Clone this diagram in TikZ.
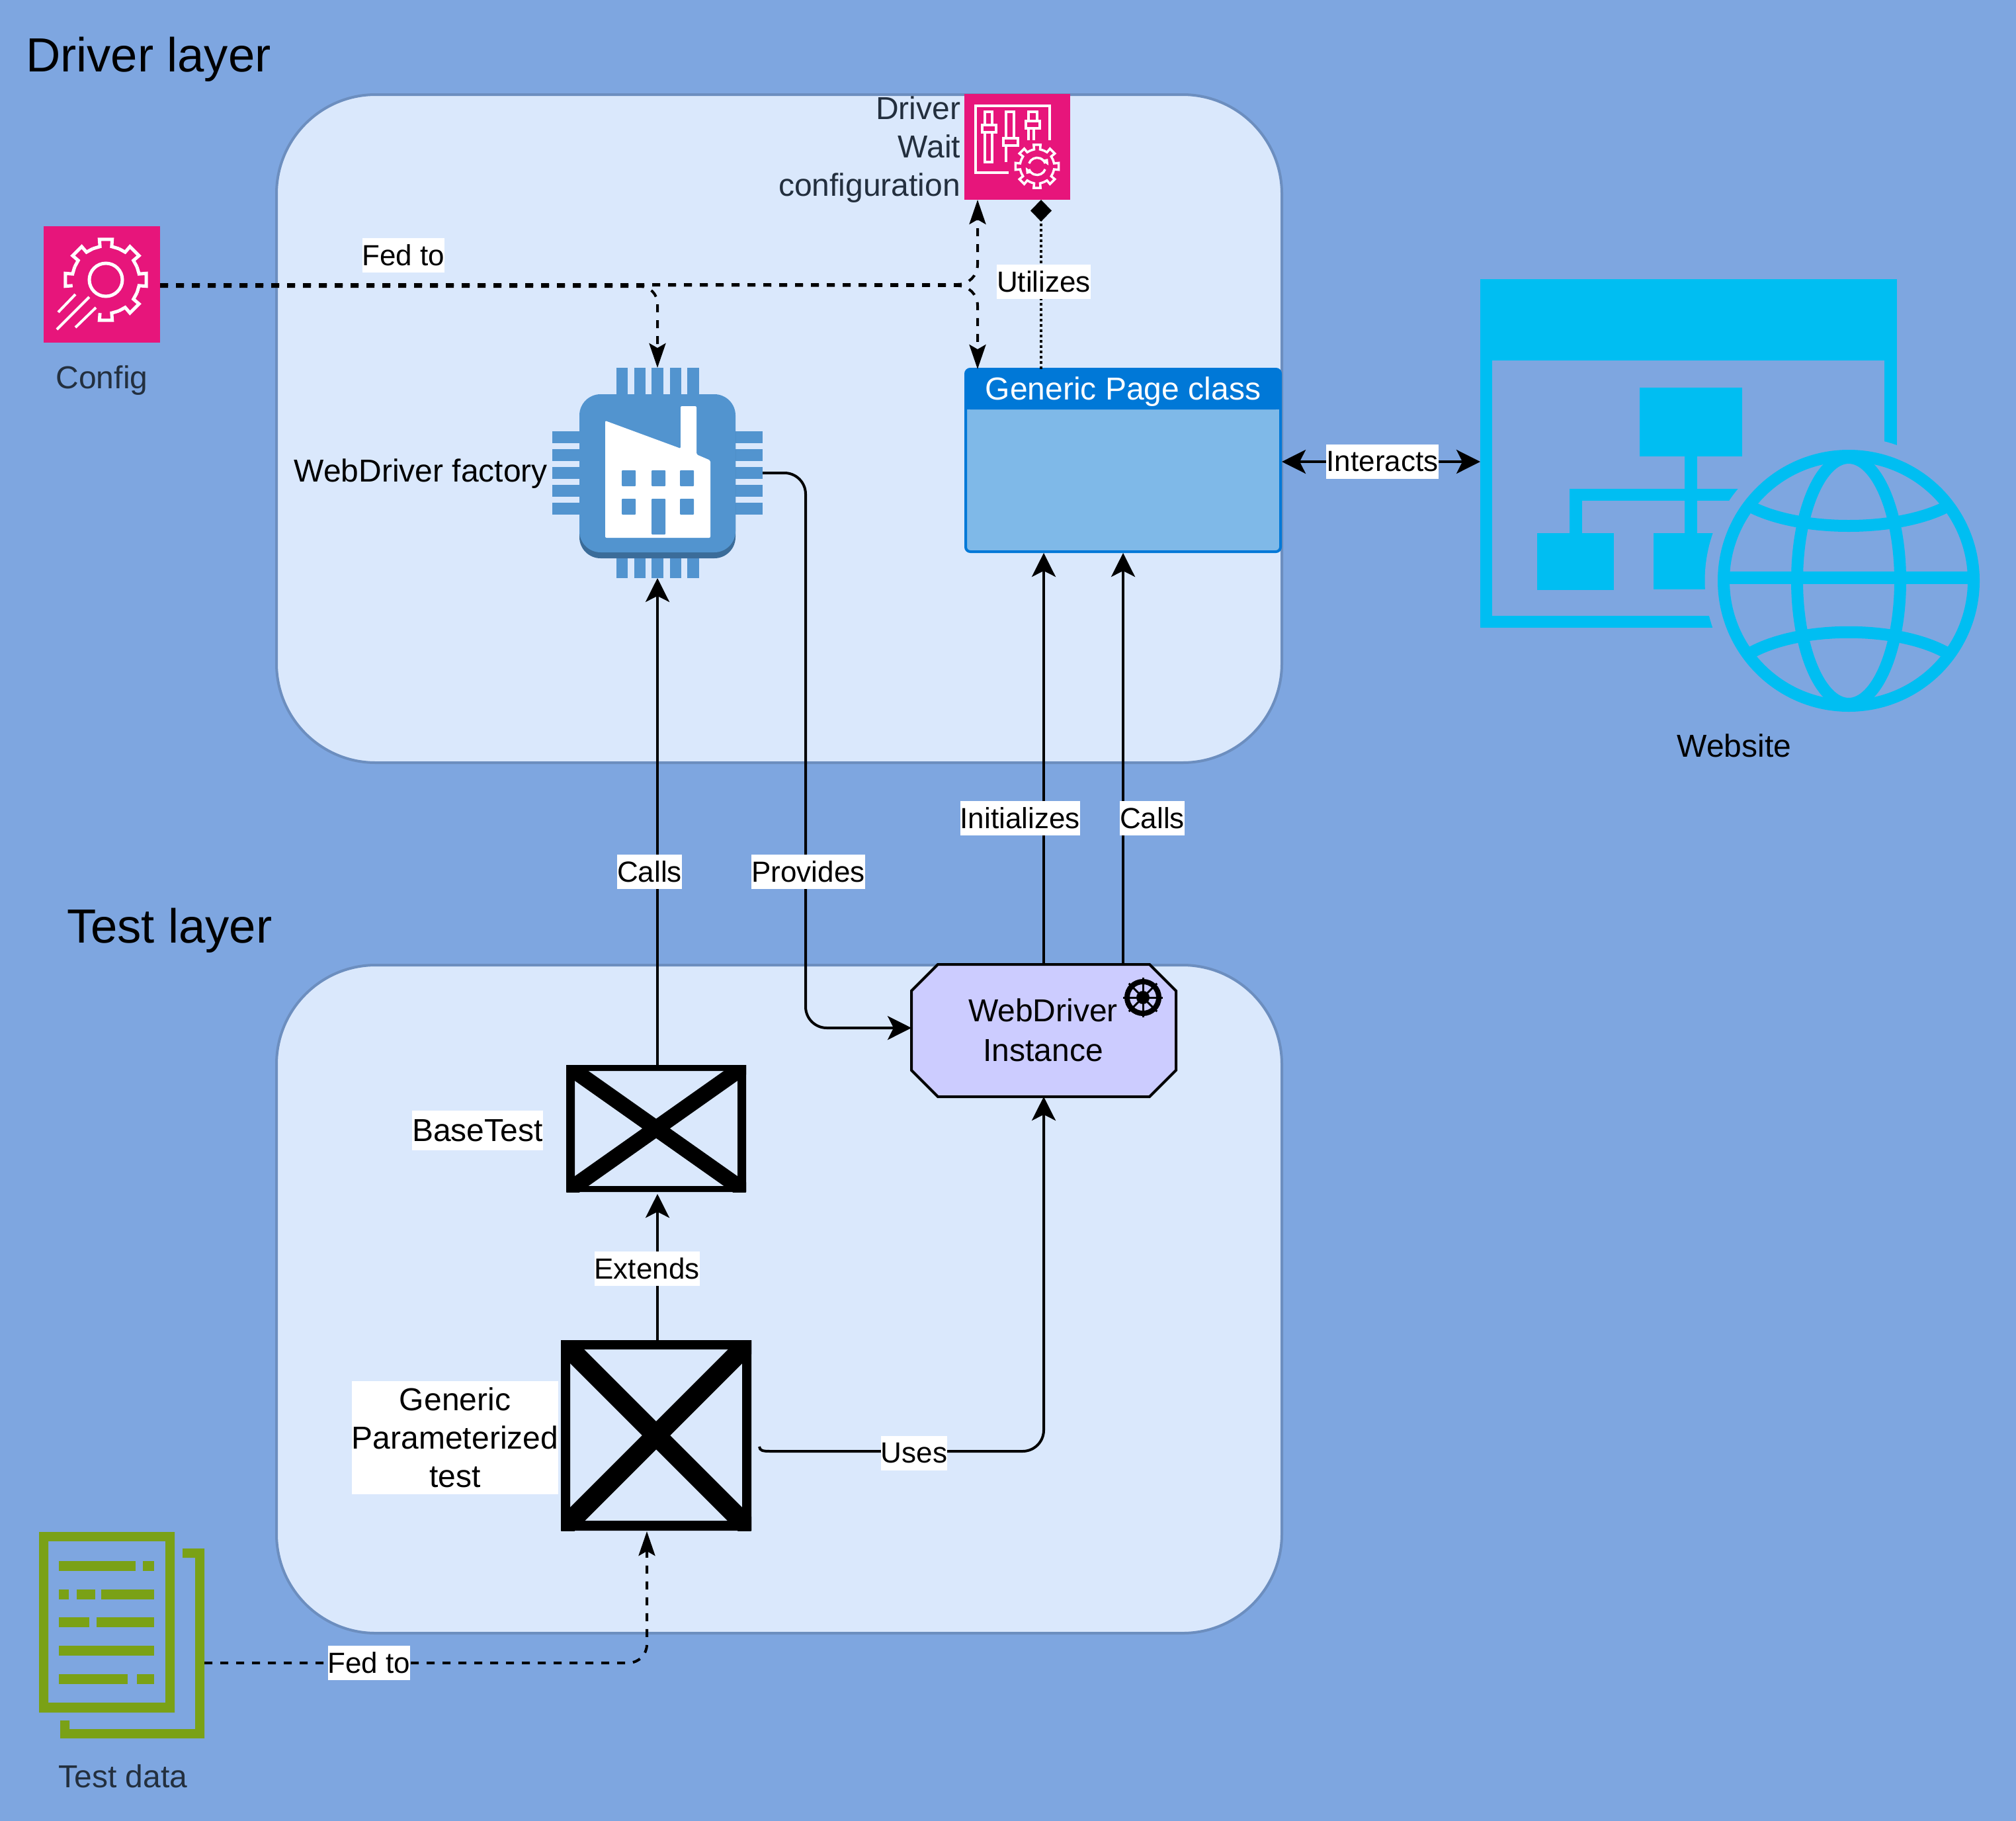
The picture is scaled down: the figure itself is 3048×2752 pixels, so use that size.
\documentclass[tikz,border=0pt]{standalone}
\usepackage{fontspec}
\setmainfont{Liberation Sans}
\usetikzlibrary{arrows.meta,calc}
\definecolor{bgc}{HTML}{7EA6E0}
\definecolor{contfill}{HTML}{DAE8FC}
\definecolor{contline}{HTML}{6C8EBF}
\definecolor{pinkc}{HTML}{E7157B}
\definecolor{darktxt}{HTML}{232F3E}
\definecolor{chipc}{HTML}{5294CF}
\definecolor{chipd}{HTML}{3B6C99}
\definecolor{pagehead}{HTML}{0078D7}
\definecolor{pagefill}{HTML}{7FB9E8}
\definecolor{sitec}{HTML}{00BEF2}
\definecolor{datac}{HTML}{7AA116}
\definecolor{octoc}{HTML}{CCCCFF}
\tikzset{
  slot/.style={inner sep=0pt,outer sep=0pt,draw=none},
  bodytext/.style={inner sep=0pt,outer sep=0pt,align=center,font=\fontsize{48}{58}\selectfont},
  lbl/.style={fill=white,inner xsep=0pt,inner ysep=0pt,outer sep=0pt,minimum height=52pt,font=\fontsize{44}{52}\selectfont},
  title/.style={inner sep=0pt,outer sep=0pt,anchor=west,font=\fontsize{72.5}{80}\selectfont},
  container/.style={fill=contfill,draw=contline,line width=4pt,rounded corners=150pt},
  conn/.style={line width=4pt,draw=black},
  solidarr/.style={conn,-{Stealth[length=36pt,width=36pt,inset=9pt]}},
  bothsolid/.style={conn,{Stealth[length=36pt,width=36pt,inset=9pt]}-{Stealth[length=36pt,width=36pt,inset=9pt]}},
  dasharr/.style={conn,dash pattern=on 12pt off 12pt,-{Stealth[length=37pt,width=25pt,inset=7pt]}},
  whiteline/.style={draw=white,line width=5pt,fill=none},
}
\newcommand{\geartooth}[3]{% angle, rin, rout
  (#1-22.5:#2) -- (#1-10:#2) -- (#1-9:#3) -- (#1+9:#3) -- (#1+10:#2) -- (#1+22.5:#2)}
\begin{document}
\begin{tikzpicture}[x=1pt,y=-1pt]
\path[use as bounding box] (0,0) rectangle (3048,2752);
\fill[bgc] (-6,-6) rectangle (3054,2758);

% containers
\draw[container] (418,143) rectangle (1938,1153);
\draw[container] (418,1459) rectangle (1938,2469);

% titles
\node[title] (t1) at (39,90) {Driver layer};
\node[title] (t2) at (101,1407) {Test layer};

% Config icon
\node[slot,fill=pinkc,minimum width=176pt,minimum height=176pt] (config) at (154,430) {};
\node[bodytext,text=darktxt] (configt) at (154,575) {Config};
\begin{scope}[shift={(160,423)}]
  \foreach \a in {225,270,315,0,45}
    \draw[whiteline,line join=miter] \geartooth{\a}{51}{62};
  \draw[whiteline,line join=miter] (180-10:51) -- (180-9:62) -- (180+9:62) -- (180+10:51) -- (180+22.5:51);
  \draw[whiteline,line join=miter] (90-22.5:51) -- (90-10:51) -- (90-9:62) -- (90+9:62) -- (90+10:51);
  \draw[whiteline] (0,0) circle (25);
\end{scope}
\draw[whiteline,line width=4pt] (114,445) -- (88,472);
\draw[whiteline,line width=4pt] (135,449) -- (86,498);
\draw[whiteline,line width=4pt] (145,465) -- (114,495);

% Driver wait icon
\node[slot,fill=pinkc,minimum width=160pt,minimum height=160pt] (wait) at (1538,222) {};
\node[bodytext,text=darktxt,align=right,anchor=east] (waitt) at (1452,226) {Driver\\Wait\\configuration};
\draw[whiteline,line width=4pt] (1587,212) -- (1587,160) -- (1475,160) -- (1475,261) -- (1525,261);
\draw[whiteline,line width=4pt] (1489,169) rectangle (1500,245);
\draw[whiteline,line width=4pt,fill=pinkc] (1485,189) rectangle (1506,200);
\draw[whiteline,line width=4pt] (1521,245) -- (1521,169) -- (1533,169) -- (1533,209);
\draw[whiteline,line width=4pt,fill=pinkc] (1517,209) rectangle (1539,220);
\draw[whiteline,line width=4pt] (1555,212) -- (1555,169) -- (1568,169) -- (1568,183);
\draw[whiteline,line width=4pt] (1563,194) -- (1563,212);
\draw[whiteline,line width=4pt,fill=pinkc] (1551,183) rectangle (1572,194);
\begin{scope}[shift={(1568,251.5)}]
  \fill[pinkc] (0,0) circle (38);
  \foreach \a in {0,45,...,315}
    \draw[whiteline,line width=3.5pt,line join=miter] \geartooth{\a}{26}{33};
  \draw[whiteline,line width=3.5pt] (200:13) arc (200:340:13);
  \draw[whiteline,line width=3.5pt] (20:13) arc (20:160:13);
  \fill[white] (340:13)++(-6,-5) -- ++(10,-2) -- ++(1,10) -- cycle;
  \fill[white] (160:13)++(6,5) -- ++(-10,2) -- ++(-1,-10) -- cycle;
\end{scope}

% Chip
\node[slot,minimum width=318pt,minimum height=318pt] (chip) at (994,715) {};
\foreach \xa/\xb in {932/949,959/976,985/1003,1013/1030,1039/1057} {
  \fill[chipc] (\xa,556) rectangle (\xb,600);
  \fill[chipc] (\xb,874) rectangle (\xa,840);
}
\foreach \ya/\yb in {652/670,679/697,706/724,733/751,760/778} {
  \fill[chipc] (835,\ya) rectangle (880,\yb);
  \fill[chipc] (1153,\ya) rectangle (1108,\yb);
}
\fill[chipd,rounded corners=32pt] (876,620) rectangle (1112,844);
\fill[chipc,rounded corners=32pt] (876,596) rectangle (1112,835);
\fill[white,rounded corners=2pt] (915,813) -- (915,636) -- (1029,678) -- (1029,614) -- (1053,614) -- (1053,687) -- (1074,696) -- (1074,813) -- cycle;
\foreach \xa in {940,985,1028} \fill[chipc,rounded corners=1pt] (\xa,711) rectangle ++(21,24);
\foreach \xa in {940,1028} \fill[chipc,rounded corners=1pt] (\xa,754) rectangle ++(21,24);
\fill[chipc,rounded corners=1pt] (985,754) rectangle (1006,808);
\node[bodytext,anchor=east] (chipt) at (828,716) {WebDriver factory};

% Generic page class
\node[slot,draw=pagehead,fill=pagefill,line width=4pt,rounded corners=7pt,minimum width=476pt,minimum height=276pt] (page) at (1698,696) {};
\fill[pagehead,rounded corners=7pt] (page.north west) -- (page.north east) -- (page.east |- 0,619) -- (page.west |- 0,619) -- cycle;
\fill[pagehead] (1460,605) rectangle (1936,619);
\node[bodytext,text=white] (paget) at (1698,592) {Generic Page class};

% Website icon
\node[slot,minimum width=756pt,minimum height=653pt] (site) at (2616,748.5) {};
\coordinate (sitein) at (2238,698);
\fill[sitec] (2238,422) rectangle (2868,545);
\fill[sitec] (2238,422) rectangle (2256,949);
\fill[sitec] (2849,422) rectangle (2868,700);
\fill[sitec] (2238,931) rectangle (2620,949);
\fill[sitec] (2479,586) rectangle (2634,690);
\fill[sitec] (2547,690) rectangle (2566,806);
\fill[sitec] (2373,739) rectangle (2660,757);
\fill[sitec] (2373,739) rectangle (2392,806);
\fill[sitec] (2324,806) rectangle (2440,892);
\fill[sitec] (2500,806) rectangle (2620,891);
\fill[bgc] (2795,878) circle (217.5);
\draw[sitec,line width=18pt] (2795,878) circle (189);
\draw[sitec,line width=18pt] (2795,878) ellipse (78 and 186);
\draw[sitec,line width=19pt] (2610,873) -- (2980,873);
\begin{scope}
  \clip (2795,878) circle (190);
  \draw[sitec,line width=18pt] (2645,765) .. controls (2720,805) and (2870,805) .. (2945,765);
  \draw[sitec,line width=18pt] (2645,988) .. controls (2720,945) and (2870,945) .. (2945,988);
\end{scope}
\node[bodytext] (sitet) at (2622,1127) {Website};

% BaseTest
\node[slot,minimum width=272pt,minimum height=192pt] (base) at (992,1706) {};
\fill[black,even odd rule] (856,1610) rectangle (1128,1802) (869,1619) rectangle (1115,1793);
\begin{scope}
  \clip (856,1610) rectangle (1128,1802);
  \draw[line width=24pt] (856,1610) -- (1128,1802);
  \draw[line width=24pt] (856,1802) -- (1128,1610);
\end{scope}

% Generic Parameterized test
\node[slot,minimum width=288pt,minimum height=288pt] (gen) at (992,2170) {};
\fill[black,even odd rule] (848,2026) rectangle (1136,2314) (862,2040) rectangle (1122,2299);
\begin{scope}
  \clip (848,2026) rectangle (1136,2314);
  \draw[line width=30pt] (848,2026) -- (1136,2314);
  \draw[line width=30pt] (848,2314) -- (1136,2026);
\end{scope}

% WebDriver instance
\fill[octoc] (1418,1458) -- (1738,1458) -- (1778,1498) -- (1778,1618) -- (1738,1658) -- (1418,1658) -- (1378,1618) -- (1378,1498) -- cycle;
\node[slot,minimum width=400pt,minimum height=200pt] (octo) at (1578,1558) {};
\draw[line width=4pt,line join=miter] (1418,1458) -- (1738,1458) -- (1778,1498) -- (1778,1618) -- (1738,1658) -- (1418,1658) -- (1378,1618) -- (1378,1498) -- cycle;
\node[bodytext] (octot) at (1577,1557) {WebDriver\\[2pt]Instance};
\begin{scope}[shift={(1728,1508)}]
  \draw[line width=8pt] (0,0) circle (24);
  \fill (0,0) circle (10);
  \foreach \a in {0,45,...,315} \draw[line width=3pt] (0,0) -- (\a:30);
\end{scope}

% Test data
\node[slot,minimum width=250pt,minimum height=312pt] (data) at (184,2472) {};
\fill[datac,even odd rule] (59,2316) rectangle (264,2589) (73,2330) rectangle (250,2574);
\fill[datac] (276,2341) -- (309,2341) -- (309,2628) -- (91,2628) -- (91,2601) -- (105,2601) -- (105,2614) -- (295,2614) -- (295,2355) -- (276,2355) -- cycle;
\foreach \ya/\xa/\xb in {2360/89/205,2360/216/233,2403/89/104,2403/116/144,2403/153/233,2445/89/135,2445/146/233,2488/89/233,2531/89/193,2531/207/233}
  \fill[datac] (\xa,\ya) rectangle (\xb,\ya+14.5);
\node[bodytext,text=darktxt] (datat) at (186,2685) {Test data};

% Text beside the test boxes
\node[bodytext,fill=white,minimum width=196pt,minimum height=60pt] (baset) at (722,1709) {BaseTest};
\node[bodytext,fill=white,minimum width=312pt,minimum height=171pt] (gent) at (688,2173) {Generic\\Parameterized\\test};

% Connectors
\draw[dasharr,rounded corners=26pt] ($(config.east)+(0,3)$) -- (chip.north |- 0,433) -- (chip.north);
\draw[dasharr,rounded corners=30pt] (config.east) -- ($(wait.south west)+(20,128)$) -- ($(wait.south west)+(20,0)$);
\draw[dasharr,rounded corners=30pt] (config.east) -- ($(page.north west)+(18,-126)$) -- ($(page.north west)+(18,0)$);
\draw[conn,dash pattern=on 4pt off 4pt,-{Diamond[length=33pt,width=32pt]}] ($(page.north west)+(114,0)$) -- ($(wait.south west)+(116,0)$);
\draw[solidarr] (base.north -| chip.south) -- (chip.south);
\draw[solidarr,rounded corners=32pt] (chip.east) -- ($(chip.east)+(65,0)$) -- ($(octo.west)+(-160,-4)$) -- ($(octo.west)+(0,-4)$);
\draw[solidarr] (octo.north) -- ($(page.south west)+(118,2)$);
\draw[solidarr] ($(octo.north)+(120,0)$) -- ($(page.south)+(0,2)$);
\draw[bothsolid] ($(page.east)+(2,2)$) -- (sitein);
\draw[solidarr] (gen.north -| chip.south) -- ($(base.south -| chip.south)+(0,3)$);
\coordinate (hook) at ($(gen.east)+(30,24)$);
\draw[conn] ($(gen.east)+(12,17)$) .. controls ($(gen.east)+(13,23)$) and ($(gen.east)+(16,24)$) .. (hook);
\draw[solidarr,rounded corners=32pt] (hook) -- (octo.south |- hook) -- (octo.south);
\draw[dasharr,rounded corners=28pt] ($(data.east)+(0,42)$) -- (978,2514) -- ($(gen.south)+(-14,1)$);

% Connector labels
\node[lbl,minimum width=124pt] (l1) at (610,386) {Fed to};
\node[lbl,minimum width=140pt] (l2) at (1578,426) {Utilizes};
\node[lbl,minimum width=98pt] (l3) at (982,1318) {Calls};
\node[lbl,minimum width=172pt] (l4) at (1222,1318) {Provides};
\node[lbl,minimum width=181pt] (l5) at (1542,1237) {Initializes};
\node[lbl,minimum width=98pt] (l6) at (1742,1237) {Calls};
\node[lbl,minimum width=170pt] (l7) at (2090,698) {Interacts};
\node[lbl,minimum width=156pt] (l8) at (978,1918) {Extends};
\node[lbl,minimum width=100pt] (l9) at (1382,2197) {Uses};
\node[lbl,minimum width=124pt] (l10) at (558,2514) {Fed to};
\end{tikzpicture}
\end{document}
